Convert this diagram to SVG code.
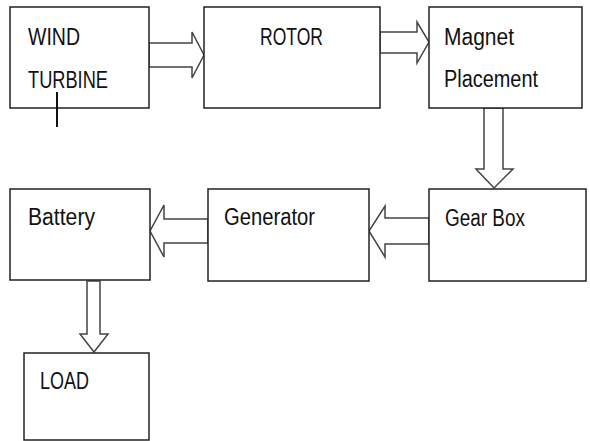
<svg xmlns="http://www.w3.org/2000/svg" width="590" height="441" viewBox="0 0 590 441">
<style>
.box{fill:#fff;stroke:#222;stroke-width:1.5}
.arr{fill:#fff;stroke:#444;stroke-width:1.5;stroke-linejoin:miter}
.t{font-family:"Liberation Sans",Arial,sans-serif;font-size:23.5px;fill:#111}
</style>
<rect width="590" height="441" fill="#fff"/>
<g id="connectors">
<polygon class="arr" points="149,43 192,43 192,32 204,55 192,78 192,67 149,67"/>
<polygon class="arr" points="380,32 417,32 417,22 429,42 417,63 417,53 380,53"/>
<polygon class="arr" points="484,108 503,108 503,169 513,169 494,188 476,169 484,169"/>
<polygon class="arr" points="429,218 385,218 385,206 369,231 385,257 385,244 429,244"/>
<polygon class="arr" points="208,219 164,219 164,205 150,231 164,257 164,243 208,243"/>
<polygon class="arr" points="87,281 100,281 100,334 108,334 94,352 80,334 87,334"/>
</g>
<g id="wind-turbine">
<rect class="box" x="10" y="7" width="139" height="101"/>
<text class="t" x="28" y="45" textLength="52" lengthAdjust="spacingAndGlyphs">WIND</text>
<text class="t" x="28" y="88" textLength="80" lengthAdjust="spacingAndGlyphs">TURBINE</text>
<line x1="57" y1="92" x2="57" y2="127" stroke="#111" stroke-width="2"/>
</g>
<g id="rotor">
<rect class="box" x="204" y="7" width="176" height="101"/>
<text class="t" x="260" y="45" textLength="63" lengthAdjust="spacingAndGlyphs">ROTOR</text>
</g>
<g id="magnet-placement">
<rect class="box" x="429" y="7" width="153" height="101"/>
<text class="t" x="444" y="45" textLength="70" lengthAdjust="spacingAndGlyphs">Magnet</text>
<text class="t" x="444" y="87" textLength="94" lengthAdjust="spacingAndGlyphs">Placement</text>
</g>
<g id="gear-box">
<rect class="box" x="429" y="189" width="157" height="92"/>
<text class="t" x="445" y="226" textLength="80" lengthAdjust="spacingAndGlyphs">Gear Box</text>
</g>
<g id="generator">
<rect class="box" x="208" y="189" width="161" height="92"/>
<text class="t" x="224" y="225" textLength="91" lengthAdjust="spacingAndGlyphs">Generator</text>
</g>
<g id="battery">
<rect class="box" x="10" y="189" width="140" height="91"/>
<text class="t" x="28" y="225" textLength="67" lengthAdjust="spacingAndGlyphs">Battery</text>
</g>
<g id="load">
<rect class="box" x="24" y="353" width="125" height="87"/>
<text class="t" x="40" y="389" textLength="49" lengthAdjust="spacingAndGlyphs">LOAD</text>
</g>
</svg>
